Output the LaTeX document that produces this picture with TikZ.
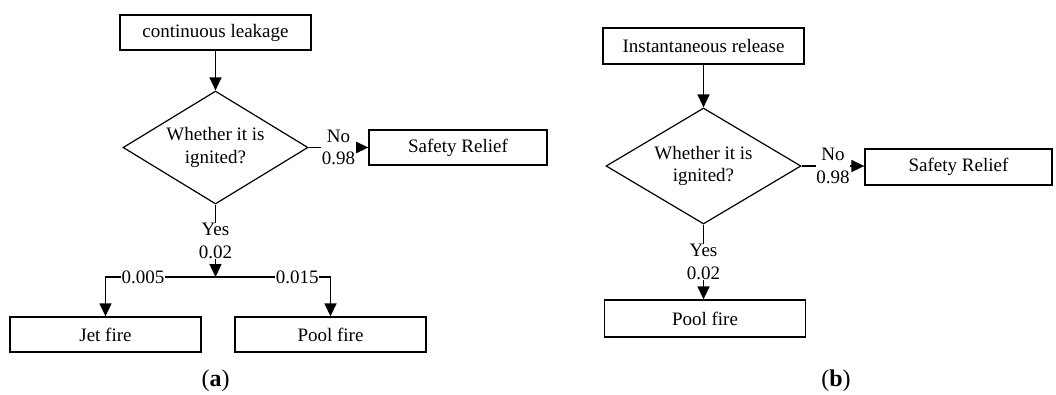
\documentclass[tikz,border=0pt]{standalone}
\usepackage{fontspec}
\setmainfont{Liberation Serif}
\usetikzlibrary{shapes.geometric,arrows.meta}
\begin{document}
\begin{tikzpicture}[x=1pt,y=-1pt,
  every node/.style={font=\fontsize{19}{22.5}\selectfont},
  boxnode/.style={draw, line width=1.3pt, rectangle, inner sep=0pt, minimum height=35pt},
  decnode/.style={draw, line width=1.2pt, diamond, inner sep=0pt, align=center, shape aspect=1.64},
  lbl/.style={fill=white, inner sep=0.5pt, align=center},
  conn/.style={line width=1.4pt},
  arr/.style={conn, -{Triangle[length=13pt,width=12pt]}},
  captext/.style={font=\fontsize{24}{28}\selectfont}]
\useasboundingbox (0,0) rectangle (1056,394);
% panel (a)
\node[boxnode, minimum width=191pt] (boxA) at (215.5,32.5) {continuous leakage};
\node[decnode, minimum width=185pt, minimum height=113pt] (diaA) at (215.5,147.5) {Whether it is\\ignited?};
\node[boxnode, minimum width=178pt] (safeA) at (458,147.5) {Safety Relief};
\node[boxnode, minimum width=191pt] (jetA) at (105.5,334.5) {Jet fire};
\node[boxnode, minimum width=191pt] (poolA) at (330.5,334.5) {Pool fire};
\coordinate (jA) at (215.5,277);
\coordinate (cornerL) at (jetA.north |- jA);
\coordinate (cornerR) at (poolA.north |- jA);
\draw[arr] (boxA) -- (diaA.north);
\draw[arr] (diaA.east) -- node[lbl]{No\\0.98} (safeA.west);
\draw[arr] (diaA.south) -- node[lbl]{Yes\\0.02} (jA);
\draw[arr] (jA) -- node[lbl, pos=0.66]{0.005} (cornerL) -- (jetA.north);
\draw[arr] (jA) -- node[lbl, pos=0.71]{0.015} (cornerR) -- (poolA.north);
\node[captext] (capA) at (215.5,381) {(\textbf{a})};
% panel (b)
\node[boxnode, minimum width=201pt, minimum height=36pt] (boxB) at (703.5,46) {Instantaneous release};
\node[decnode, minimum width=195pt, minimum height=116pt] (diaB) at (703.5,166) {Whether it is\\ignited?};
\node[boxnode, minimum width=187pt, minimum height=36pt] (safeB) at (958.5,167) {Safety Relief};
\node[boxnode, minimum width=201pt, minimum height=37pt] (poolB) at (705,318.5) {Pool fire};
\draw[arr] (boxB) -- (diaB.north);
\draw[arr] (diaB.east) -- node[lbl]{No\\0.98} (diaB.east -| safeB.west);
\draw[arr] (diaB.south) -- node[lbl]{Yes\\0.02} (diaB.south |- poolB.north);
\node[captext] (capB) at (836,381) {(\textbf{b})};
\end{tikzpicture}
\end{document}
